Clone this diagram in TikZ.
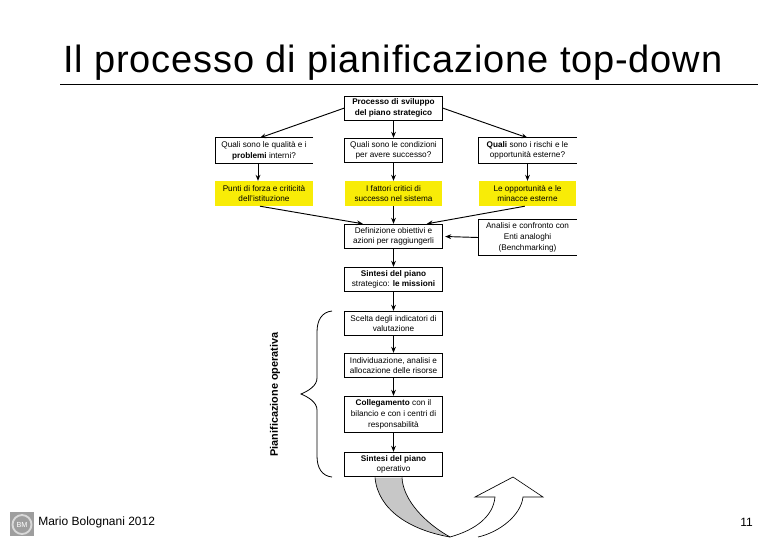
\documentclass[tikz,border=0pt]{standalone}
\usepackage{fontspec}
\setmainfont{Liberation Sans}
\usetikzlibrary{arrows.meta}
\tikzset{
 x=0.75pt,y=-0.75pt,
 box/.style={draw=black,line width=0.55pt,fill=white,inner sep=0pt,align=center,font=\fontsize{6.15}{8}\selectfont,minimum width=73pt},
 openbox/.style={box,draw=none,fill=none},
 yellowbox/.style={box,draw=none,fill=yellow!97!black},
 conn/.style={line width=0.7pt,-{Stealth[length=4.5pt,width=3.6pt]}},
 edge/.style={line width=0.55pt},
 curve/.style={line width=0.5pt},
 foot/.style={font=\fontsize{9}{11}\selectfont,anchor=west,inner sep=0pt}
}
\begin{document}
\begin{tikzpicture}
\useasboundingbox (0,0) rectangle (780,540);
\fill[white] (0,0) rectangle (780,540);
\node[font=\fontsize{28.5}{30}\selectfont\addfontfeature{LetterSpace=2.2},anchor=base west,inner sep=0pt] (title) at (63,72) {Il processo di pianificazione top-down};
\coordinate (ruleL) at (60,84.5);
\coordinate (ruleR) at (758,84.5);
\draw[line width=0.6pt] (ruleL) -- (ruleR);

\node[box,minimum height=18pt] (top) at (393.5,108) {\textbf{Processo di sviluppo}\\\textbf{del piano strategico}};
\node[openbox,minimum height=18.5pt] (q1) at (264,150.5) {Quali sono le qualità e i\\\textbf{problemi} interni?};
\node[box,minimum height=18.5pt] (q2) at (393.5,150.5) {Quali sono le condizioni\\per avere successo?};
\node[openbox,minimum height=18.5pt] (q3) at (527.5,150.5) {\textbf{Quali} sono i rischi e le\\opportunità esterne?};
\node[yellowbox,minimum height=18.5pt] (y1) at (264,193.5) {Punti di forza e criticità\\dell'istituzione};
\node[yellowbox,minimum height=18.5pt] (y2) at (393.5,193.5) {I fattori critici di\\successo nel sistema};
\node[yellowbox,minimum height=18.5pt] (y3) at (527.5,193.5) {Le opportunità e le\\minacce esterne};
\node[box,minimum height=18.5pt] (def) at (393.5,236.5) {Definizione obiettivi e\\azioni per raggiungerli};
\node[openbox,minimum height=26pt] (bench) at (527.5,237.5) {Analisi e confronto con\\Enti analoghi\\(Benchmarking)};
\node[box,minimum height=18.5pt] (s1) at (393.5,279.5) {\textbf{Sintesi del piano}\\strategico: \textbf{le missioni}};
\node[box,minimum height=18.5pt] (sc) at (393.5,323.5) {Scelta degli indicatori di\\valutazione};
\node[box,minimum height=18.5pt] (in) at (393.5,365.5) {Individuazione, analisi e\\allocazione delle risorse};
\node[box,minimum height=27.5pt] (co) at (393.5,414.5) {\textbf{Collegamento} con il\\bilancio e con i centri di\\responsabilità};
\node[box,minimum height=18.5pt] (s2) at (393.5,464.5) {\textbf{Sintesi del piano}\\operativo};

\foreach \n in {q1,q3,bench}{
 \draw[edge] (\n.north east) -- (\n.north west) -- (\n.south west) -- (\n.south east);
}

\draw[conn] (top.west) -- ([xshift=-3pt]q1.north);
\draw[conn] (top) -- (q2);
\draw[conn] (top.east) -- (q3.north);
\draw[conn] ([xshift=-4.5pt]q1.south) -- ([xshift=-4.5pt]y1.north);
\draw[conn] (q2) -- (y2);
\draw[conn] (q3.south) -- (y3.north);
\draw[conn] ([xshift=-3pt]y1.south) -- ([xshift=-23pt]def.north);
\draw[conn] (y2) -- (def);
\draw[conn] ([xshift=-2pt]y3.south) -- ([xshift=25pt]def.north);
\draw[conn] (bench.west) -- ([xshift=2pt]def.east);
\draw[conn] (def) -- (s1);
\draw[conn] (s1) -- (sc);
\draw[conn] (sc) -- (in);
\draw[conn] (in) -- (co);
\draw[conn] (co) -- (s2);

\coordinate (bt) at (332,311);
\coordinate (bb) at (332,477);
\coordinate (bm) at (301,394);
\draw[curve,line width=0.6pt] (bt) .. controls (322,312) and (317,320) .. (317,332)
  -- (317,378) .. controls (317,386) and (308,391) .. (bm)
  .. controls (308,397) and (317,402) .. (317,410)
  -- (317,456) .. controls (317,468) and (322,476) .. (bb);
\node[rotate=90,font=\fontsize{8.15}{10}\bfseries\selectfont,inner sep=0pt] (plan) at (275,394.5) {Pianificazione operativa};

\fill[black!22] (375,477.5) .. controls (378,510) and (410,530) .. (450,537)
  .. controls (425,523) and (403,500) .. (402,477.5) -- cycle;
\draw[curve] (375,477.5) .. controls (378,510) and (410,530) .. (450,537);
\draw[curve] (402,477.5) .. controls (403,500) and (425,523) .. (450,537);
\draw[curve,line join=miter] (450,537) .. controls (475,530) and (493,517) .. (495,497)
  -- (475,497) -- (513,477) -- (543,497) -- (523,497)
  .. controls (521,515) and (500,532) .. (478,537);

% footer
\fill[black!38] (10,512) rectangle (34,536);
\draw[white!85!black,line width=1.4pt] (22,524.5) circle (9.5);
\node[font=\fontsize{5.5}{6}\selectfont,text=white,inner sep=0pt] (logo) at (22,524.5) {BM};
\node[foot] (author) at (38,522) {Mario Bolognani 2012};
\node[foot] (page) at (740,522) {11};
\end{tikzpicture}
\end{document}
